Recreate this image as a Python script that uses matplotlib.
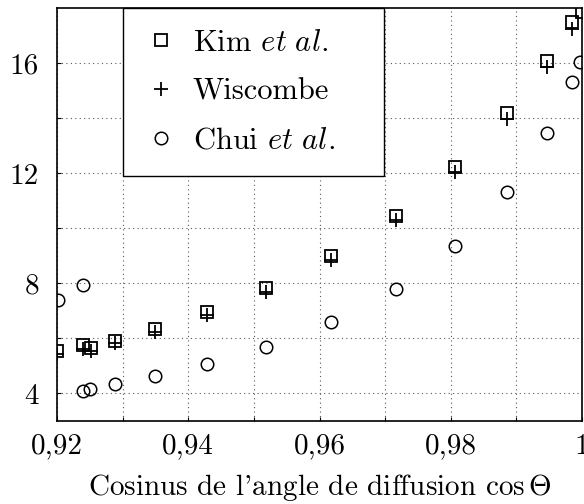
import matplotlib
matplotlib.use('Agg')
import matplotlib.pyplot as plt

# Données
cos_kim = [0.9200, 0.9239, 0.9252, 0.9289, 0.9350, 0.9429, 0.9519,
           0.9617, 0.9716, 0.9807, 0.9886, 0.9946, 0.9985, 1.0000]
val_kim = [5.55, 5.78, 5.67, 5.91, 6.33, 6.95, 7.82,
           9.00, 10.45, 12.24, 14.18, 16.09, 17.51, 17.85]

cos_wis = [0.9200, 0.9239, 0.9252, 0.9289, 0.9350, 0.9429, 0.9519,
           0.9617, 0.9716, 0.9807, 0.9886, 0.9946, 0.9985]
val_wis = [5.43, 5.63, 5.55, 5.82, 6.23, 6.85, 7.70,
           8.85, 10.30, 12.05, 13.98, 15.85, 17.25]

cos_chui = [0.9202, 0.9239, 0.9239, 0.9251, 0.9289, 0.9350, 0.9429, 0.9519,
            0.9617, 0.9716, 0.9807, 0.9886, 0.9946, 0.9984, 0.9997]
val_chui = [7.39, 7.94, 4.09, 4.15, 4.33, 4.63, 5.07, 5.69,
            6.60, 7.78, 9.36, 11.33, 13.48, 15.33, 16.06]

xticks = [0.92, 0.94, 0.96, 0.98, 1.0]
xtick_labels = ['0,92', '0,94', '0,96', '0,98', '1']
yticks = [4, 8, 12, 16]
ytick_labels = ['4', '8', '12', '16']

plt.rcParams['font.family'] = 'cmr10'
plt.rcParams['mathtext.fontset'] = 'cm'
plt.rcParams['axes.unicode_minus'] = False

fs = 21

fig = plt.figure(figsize=(5.84, 5.04), dpi=100)
ax = fig.add_axes([0.0976, 0.1647, 0.8990, 0.8188])

ax.plot(cos_kim, val_kim, ls='none', marker='s', ms=8.8, mfc='none', mec='black',
        mew=1.3, label='Kim $\\mathit{et\\ al.}$', zorder=3)
ax.plot(cos_wis, val_wis, ls='none', marker='+', ms=10, mec='black',
        mew=1.3, label='Wiscombe', zorder=4)
ax.plot(cos_chui, val_chui, ls='none', marker='o', ms=9, mfc='none', mec='black',
        mew=1.1, label='Chui $\\mathit{et\\ al.}$', zorder=3)

ax.set_xlim(0.92, 1.0)
ax.set_ylim(3, 18)

# grille pointillée tous les 0,01 et tous les 2
ax.set_xticks([0.92 + 0.01 * i for i in range(9)], minor=True)
ax.set_yticks(list(range(4, 18, 2)), minor=True)
ax.set_xticks(xticks)
ax.set_xticklabels(xtick_labels)
ax.set_yticks(yticks)
ax.set_yticklabels(ytick_labels)
ax.grid(True, which='both', ls=(0, (1, 3)), color='0.35', lw=0.8)
ax.tick_params(which='both', direction='in', length=3, width=0.8, labelsize=fs)
ax.tick_params(axis='x', pad=9)
ax.tick_params(axis='y', pad=13)

for s in ax.spines.values():
    s.set_linewidth(1.2)

ax.set_xlabel("Cosinus de l'angle de diffusion $\\cos\\Theta$", fontsize=fs, labelpad=9)

leg = ax.legend(loc='upper left', bbox_to_anchor=(0.125, 0.601, 0.498, 0.399),
                mode='expand', fontsize=22,
                fancybox=False, framealpha=1, edgecolor='black', borderaxespad=0,
                handletextpad=0.5, labelspacing=0.7, borderpad=0.7, handlelength=1.1)
leg.get_frame().set_linewidth(1.0)

plt.savefig('out.png', dpi=100)
